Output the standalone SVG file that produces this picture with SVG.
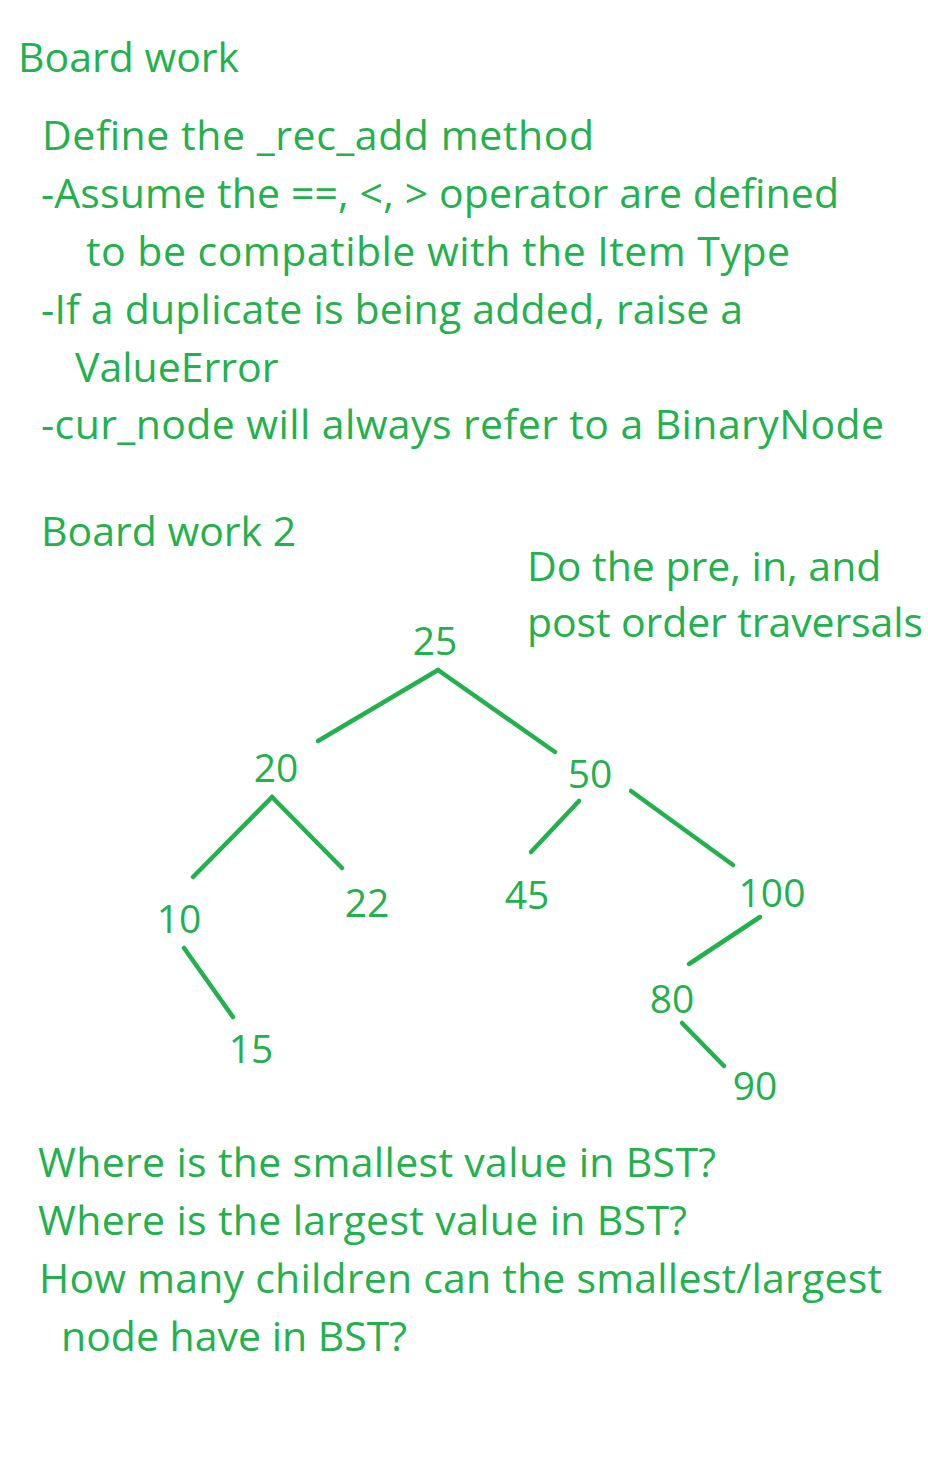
<svg xmlns="http://www.w3.org/2000/svg" width="928" height="1480" viewBox="0 0 928 1480">
<style>
  .t { font-family: "Open Sans", "Liberation Sans", sans-serif; font-size: 41px; fill: #22B14C; }
  .n { font-family: "Open Sans", "Liberation Sans", sans-serif; font-size: 39px; fill: #22B14C; }
  .c { stroke: #22B14C; stroke-width: 4.5; stroke-linecap: round; fill: none; }
</style>
<rect width="928" height="1480" fill="#ffffff"/>
<g id="board-work">
  <text class="t" x="18" y="72">Board work</text>
  <text class="t" x="42" y="150" textLength="552">Define the _rec_add method</text>
  <text class="t" x="41" y="208" textLength="798">-Assume the ==, &lt;, &gt; operator are defined</text>
  <text class="t" x="86" y="266" textLength="704">to be compatible with the Item Type</text>
  <text class="t" x="41" y="324" textLength="702">-If a duplicate is being added, raise a</text>
  <text class="t" x="75" y="382">ValueError</text>
  <text class="t" x="41" y="439" textLength="843">-cur_node will always refer to a BinaryNode</text>
</g>
<g id="board-work-2">
  <text class="t" x="41" y="546">Board work 2</text>
  <text class="t" x="527" y="581">Do the pre, in, and</text>
  <text class="t" x="527" y="637" textLength="396">post order traversals</text>
</g>
<g id="connectors">
  <line class="c" x1="438" y1="670" x2="318" y2="741"/>
  <line class="c" x1="438" y1="670" x2="555" y2="752"/>
  <line class="c" x1="272" y1="797" x2="193" y2="877"/>
  <line class="c" x1="272" y1="797" x2="342" y2="868"/>
  <line class="c" x1="579" y1="801" x2="531" y2="852"/>
  <line class="c" x1="631" y1="791" x2="733" y2="865"/>
  <line class="c" x1="184" y1="948" x2="233" y2="1017"/>
  <line class="c" x1="760" y1="917" x2="689" y2="964"/>
  <line class="c" x1="682" y1="1023" x2="724" y2="1066"/>
</g>
<g id="node-25"><text class="n" x="435" y="655" text-anchor="middle">25</text></g>
<g id="node-20"><text class="n" x="276" y="782" text-anchor="middle">20</text></g>
<g id="node-50"><text class="n" x="590" y="788" text-anchor="middle">50</text></g>
<g id="node-10"><text class="n" x="179" y="933" text-anchor="middle">10</text></g>
<g id="node-22"><text class="n" x="367" y="917" text-anchor="middle">22</text></g>
<g id="node-45"><text class="n" x="527" y="909" text-anchor="middle">45</text></g>
<g id="node-100"><text class="n" x="772" y="907" text-anchor="middle">100</text></g>
<g id="node-15"><text class="n" x="251" y="1063" text-anchor="middle">15</text></g>
<g id="node-80"><text class="n" x="672" y="1013" text-anchor="middle">80</text></g>
<g id="node-90"><text class="n" x="755" y="1100" text-anchor="middle">90</text></g>
<g id="questions">
  <text class="t" x="38" y="1177" textLength="678">Where is the smallest value in BST?</text>
  <text class="t" x="38" y="1235" textLength="649">Where is the largest value in BST?</text>
  <text class="t" x="39" y="1293" textLength="843">How many children can the smallest/largest</text>
  <text class="t" x="61" y="1351">node have in BST?</text>
</g>
</svg>
